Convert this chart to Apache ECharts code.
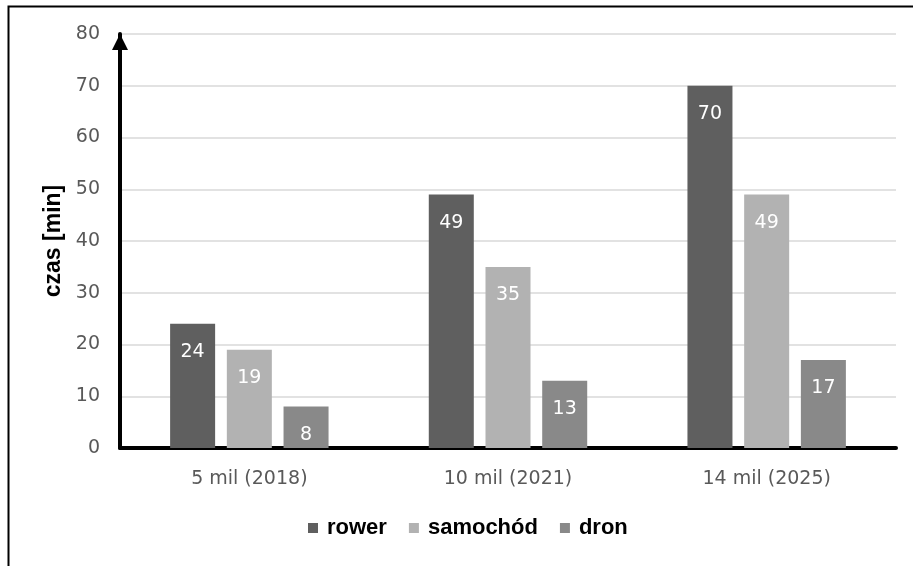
<!DOCTYPE html>
<html>
<head>
<meta charset="utf-8">
<script src="https://cdn.jsdelivr.net/npm/echarts@6/dist/echarts.min.js"></script>
<style>
html,body{margin:0;padding:0;background:#fff;}
#chart{width:913px;height:566px;}
</style>
</head>
<body>
<div id="chart"></div>
<script>
const categories = ['5 mil (2018)', '10 mil (2021)', '14 mil (2025)'];
const seriesNames = ['rower', 'samochód', 'dron'];
const rower = [24, 49, 70];
const samochod = [19, 35, 49];
const dron = [8, 13, 17];
const yTicks = { min: 0, max: 80, interval: 10 };
const yName = 'czas [min]';
const colors = ['#5f5f5f', '#b2b2b2', '#898989'];

const chart = echarts.init(document.getElementById('chart'), null, { renderer: 'canvas' });
const values = [rower, samochod, dron];
const labelStyle = {
  show: true, position: 'insideTop', distance: 19,
  color: '#ffffff', fontFamily: 'DejaVu Sans', fontSize: 19
};
chart.setOption({
  animation: false,
  backgroundColor: '#ffffff',
  color: colors,
  graphic: [{
    type: 'rect', left: 6, top: 4,
    shape: { width: 1000, height: 1000 },
    style: { fill: 'none', stroke: '#000', lineWidth: 2 }
  }],
  grid: { left: 120, right: 17, top: 34, bottom: 118 },
  legend: {
    bottom: 22, left: 303,
    itemWidth: 10, itemHeight: 10, itemGap: 22,
    icon: 'rect',
    textStyle: { fontFamily: 'Liberation Sans', fontWeight: 'bold', fontSize: 22, color: '#000', padding: [0, 0, 0, 4] },
    data: seriesNames
  },
  xAxis: {
    type: 'category', data: categories,
    axisTick: { show: false },
    axisLine: { lineStyle: { color: '#000', width: 4 } },
    axisLabel: { color: '#595959', fontFamily: 'DejaVu Sans', fontSize: 19, margin: 22 }
  },
  yAxis: {
    type: 'value', min: yTicks.min, max: yTicks.max, interval: yTicks.interval,
    name: yName, nameLocation: 'middle', nameGap: 55, nameRotate: 90,
    nameTextStyle: { fontFamily: 'Liberation Sans', fontWeight: 'bold', fontSize: 23, color: '#000' },
    axisLine: { show: true, symbol: ['none', 'triangle'], symbolSize: [16, 16], symbolOffset: [0, -8],
      lineStyle: { color: '#000', width: 4 } },
    axisTick: { show: false },
    axisLabel: { color: '#595959', fontFamily: 'DejaVu Sans', fontSize: 19, margin: 20 },
    splitLine: { lineStyle: { color: '#d9d9d9', width: 1.5 } }
  },
  series: seriesNames.map((n, i) => ({
    name: n, type: 'bar', data: values[i],
    barWidth: '17.4%', barGap: '26%',
    itemStyle: { color: colors[i] },
    label: labelStyle
  }))
});
</script>
</body>
</html>
